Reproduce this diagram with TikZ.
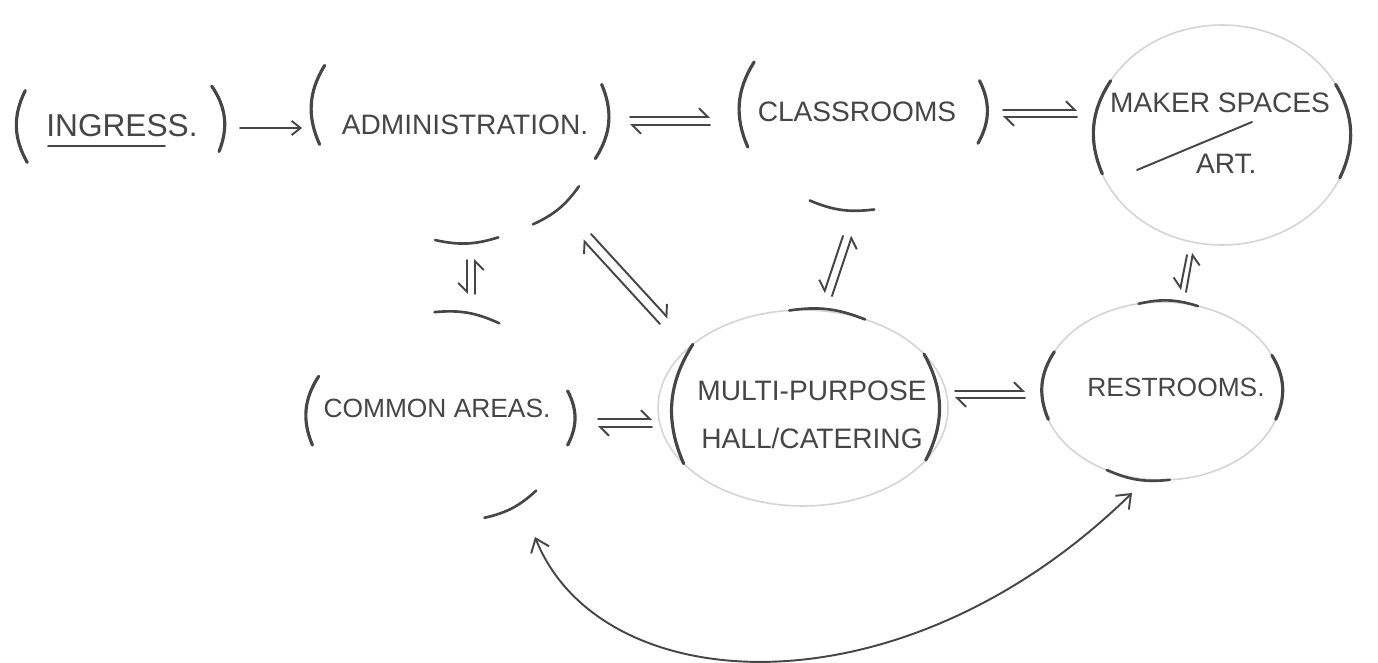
\documentclass[tikz,border=0pt]{standalone}
\usepackage{fontspec}
\setmainfont{Liberation Sans}
\usetikzlibrary{positioning,arrows.meta,shapes.geometric,calc}
\definecolor{PenGray}{RGB}{70,70,70}
\definecolor{FaintGray}{RGB}{212,212,212}

\begin{document}
\begin{tikzpicture}[
    x=0.02cm, y=-0.02cm,
    pen/.style={draw=PenGray, line width=1.1pt, line cap=round},
    paren/.style={draw=PenGray, line width=1.8pt, line cap=round},
    bubble/.style={ellipse, inner sep=0pt, outer sep=0pt},
    faint/.style={bubble, draw=FaintGray, line width=0.9pt},
    room/.style={font=\fontsize{16}{20}\selectfont, text=PenGray, inner sep=1pt, align=center},
    oneway/.style={pen, -{Straight Barb[length=5pt,width=8pt]}},
    harp/.style={pen, -{Straight Barb[harpoon,length=5pt,width=10pt]}},
    harpr/.style={pen, -{Straight Barb[harpoon,swap,length=5pt,width=10pt]}},
    bothway/.style={pen, {Straight Barb[length=7pt,width=11pt]}-{Straight Barb[length=7pt,width=11pt]}},
]
\useasboundingbox[fill=white] (0,0) rectangle (1378,662);

% bubbles
\node[bubble, minimum width=4.2cm, minimum height=3.2cm] (ing) at (120,125) {};
\node[bubble, minimum width=5.8cm, minimum height=5.2cm] (adm) at (460,112) {};
\node[bubble, minimum width=4.92cm, minimum height=4cm] (cls) at (862,110) {};
\node[faint, minimum width=5.12cm, minimum height=4.4cm] (mak) at (1222,135) {};
\node[bubble, minimum width=5.28cm, minimum height=4.24cm] (com) at (440,418) {};
\node[faint, minimum width=5.8cm, minimum height=3.92cm] (mph) at (803,408) {};
\node[faint, minimum width=4.8cm, minimum height=3.56cm] (rst) at (1162,391) {};

% room names
\node[room, font=\fontsize{18}{22}\selectfont] (ingt) at (122,126) {INGRESS.};
\node[room] (admt) at (465,125) {ADMINISTRATION.};
\node[room] (clst) at (857,112) {CLASSROOMS};
\node[room, font=\fontsize{16}{35}\selectfont] (makt) at (1220,133) {MAKER SPACES\\\hspace{0.25cm}ART.};
\node[room, font=\fontsize{15}{19}\selectfont] (comt) at (437,408) {COMMON AREAS.};
\node[room, font=\fontsize{16}{27}\selectfont] (mpht) at (812,415) {MULTI-PURPOSE\\HALL/CATERING};
\node[room, font=\fontsize{15}{19}\selectfont] (rstt) at (1176,387) {RESTROOMS.};
\draw[pen] ($(ing)+(-72,21)$) -- ($(ing)+(45,21)$);
\draw[pen] ($(mak)+(-85,35)$) -- ($(mak)+(30,-13)$);

% brackets and caps on the bubbles
\foreach \n/\a/\b in {ing/160/202, ing/-15/23, adm/161/193, adm/-19/11, cls/156/198, cls/-16/14,
    mak/154/198, mak/-20/24, com/161/192, com/-12/12, mph/150/205, mph/-23/24, rst/160/194, rst/-14/18}
  \draw[paren] (\n.\a) to[bend right=28] (\n.\b);
\foreach \n/\a/\b in {adm/259/287, adm/303/328, cls/240/277, com/58/93, com/294/323,
    mph/55/98, rst/67/105, rst/235/275}
  \draw[pen, line width=1.5pt] (\n.\a) to[bend right=15] (\n.\b);

% connectors
\draw[oneway] ($(ing)+(120,3)$) -- ($(adm)+(-158,16)$);
\draw[harp] ($(adm)+(170,5)$) -- ($(cls)+(-152,7)$);
\draw[harp] ($(cls)+(-152,15)$) -- ($(adm)+(170,13)$);
\draw[harp] ($(cls)+(141,0)$) -- ($(mak)+(-145,-25)$);
\draw[harp] ($(mak)+(-145,-18)$) -- ($(cls)+(141,7)$);
\draw[harp] ($(com)+(158,1)$) -- ($(mph)+(-151,11)$);
\draw[harp] ($(mph)+(-151,19)$) -- ($(com)+(158,9)$);
\draw[harp] ($(mph)+(152,-17)$) -- ($(rst)+(-137,0)$);
\draw[harp] ($(rst)+(-137,7)$) -- ($(mph)+(152,-10)$);
\draw[harp] ($(mph)+(-143,-84)$) -- ($(adm)+(123,128)$);
\draw[harp] ($(adm)+(131,122)$) -- ($(mph)+(-135,-90)$);
\draw[harpr] ($(adm)+(7,148)$) -- ($(com)+(27,-124)$);
\draw[harpr] ($(com)+(35,-124)$) -- ($(adm)+(15,147)$);
\draw[harpr] ($(cls)+(-19,126)$) -- ($(mph)+(21,-115)$);
\draw[harpr] ($(mph)+(29,-112)$) -- ($(cls)+(-10,126)$);
\draw[harpr] ($(mak)+(-35,120)$) -- ($(rst)+(18,-101)$);
\draw[harpr] ($(rst)+(24,-99)$) -- ($(mak)+(-29,118)$);
\draw[bothway] ($(com)+(95,119)$) .. controls (600,700) and (900,720) .. ($(rst)+(-30,102)$);
\end{tikzpicture}
\end{document}
